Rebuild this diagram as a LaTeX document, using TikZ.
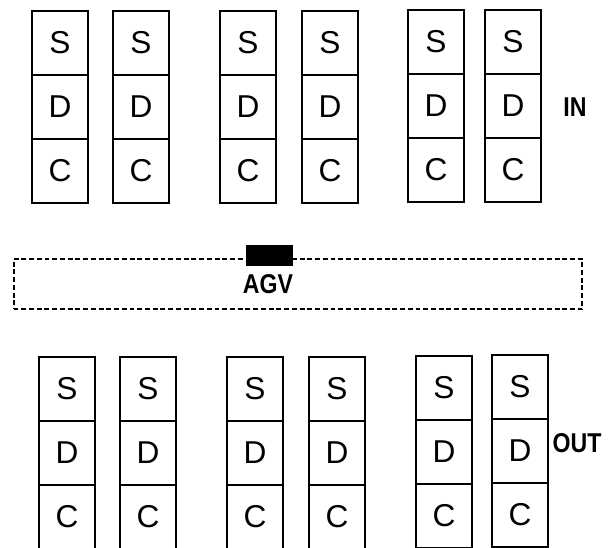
\documentclass[tikz,border=0pt]{standalone}
\usepackage{fontspec}
\setmainfont{Liberation Sans}
\newfontfamily\tagfont{Liberation Sans}[FakeStretch=0.85]
\usepackage{tikz}
\usetikzlibrary{positioning}

\begin{document}
\begin{tikzpicture}[
  x=0.02cm, y=-0.02cm,
  cell/.style={draw, line width=0.9pt, inner sep=0pt, outer sep=0pt, minimum width=1.12cm, minimum height=1.28cm, font=\fontsize{18}{20}\selectfont},
  track/.style={draw, dashed, dash pattern=on 2.8pt off 1.6pt, line width=1.1pt, inner sep=0pt, minimum width=11.38cm, minimum height=1cm},
  vehicle/.style={draw, fill=black, inner sep=0pt, minimum width=0.92cm, minimum height=0.4cm},
  tag/.style={font=\fontsize{15.5}{17}\tagfont\bfseries}
]
\useasboundingbox (0,0) rectangle (610,548);

% upper row (IN)
\node[cell] (s1) at (60,43) {S};
\node[cell, below=0pt of s1] (d1) {D};
\node[cell, below=0pt of d1] (c1) {C};
\node[cell] (s2) at (141,43) {S};
\node[cell, below=0pt of s2] (d2) {D};
\node[cell, below=0pt of d2] (c2) {C};
\node[cell] (s3) at (248,43) {S};
\node[cell, below=0pt of s3] (d3) {D};
\node[cell, below=0pt of d3] (c3) {C};
\node[cell] (s4) at (330,43) {S};
\node[cell, below=0pt of s4] (d4) {D};
\node[cell, below=0pt of d4] (c4) {C};
\node[cell] (s5) at (436,42) {S};
\node[cell, below=0pt of s5] (d5) {D};
\node[cell, below=0pt of d5] (c5) {C};
\node[cell] (s6) at (513,42) {S};
\node[cell, below=0pt of s6] (d6) {D};
\node[cell, below=0pt of d6] (c6) {C};
\node[tag] (in) at (575,107) {IN};

% AGV track
\node[track] (path) at (298,284) {};
\node[vehicle] (agv) at (269,255) {};
\node[tag] (agvname) at (268,284) {AGV};

% lower row (OUT)
\node[cell] (s7) at (67,389) {S};
\node[cell, below=0pt of s7] (d7) {D};
\node[cell, below=0pt of d7] (c7) {C};
\node[cell] (s8) at (148,389) {S};
\node[cell, below=0pt of s8] (d8) {D};
\node[cell, below=0pt of d8] (c8) {C};
\node[cell] (s9) at (255,389) {S};
\node[cell, below=0pt of s9] (d9) {D};
\node[cell, below=0pt of d9] (c9) {C};
\node[cell] (s10) at (337,389) {S};
\node[cell, below=0pt of s10] (d10) {D};
\node[cell, below=0pt of d10] (c10) {C};
\node[cell] (s11) at (444,388) {S};
\node[cell, below=0pt of s11] (d11) {D};
\node[cell, below=0pt of d11] (c11) {C};
\node[cell] (s12) at (520,387) {S};
\node[cell, below=0pt of s12] (d12) {D};
\node[cell, below=0pt of d12] (c12) {C};
\node[tag] (out) at (577,443) {OUT};

\end{tikzpicture}
\end{document}
